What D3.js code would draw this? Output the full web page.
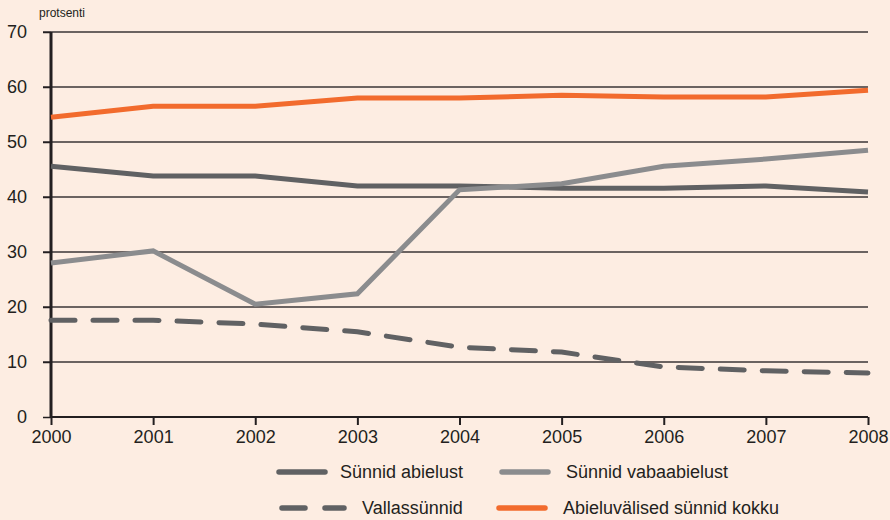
<!DOCTYPE html>
<html>
<head>
<meta charset="utf-8">
<script src="https://cdn.jsdelivr.net/npm/d3@7"></script>
<style>
  body { margin: 0; background: #fdede2; }
  svg { display: block; font-family: "Liberation Sans", Arial, sans-serif; }
</style>
</head>
<body>
<div id="chart"></div>
<script>
var width = 890,
    height = 520;

// data
var years = [2000, 2001, 2002, 2003, 2004, 2005, 2006, 2007, 2008];
var abielust = [45.6, 43.8, 43.8, 42.0, 42.0, 41.6, 41.6, 42.0, 40.9];
var vabaabielust = [28.0, 30.2, 20.5, 22.4, 41.3, 42.4, 45.6, 46.9, 48.5];
var vallas = [17.6, 17.6, 16.9, 15.5, 12.7, 11.8, 9.1, 8.4, 8.0];
var kokku = [54.5, 56.5, 56.5, 58.0, 58.0, 58.5, 58.2, 58.2, 59.4];
var yTicks = [0, 10, 20, 30, 40, 50, 60, 70];

var series = [
    { name: "Sünnid abielust", values: abielust, color: "#606163", dash: null },
    { name: "Sünnid vabaabielust", values: vabaabielust, color: "#8b8c8e", dash: null },
    { name: "Vallassünnid", values: vallas, color: "#606163", dash: "24,18" },
    { name: "Abieluvälised sünnid kokku", values: kokku, color: "#f26b2d", dash: null }
];

var x = d3.scaleLinear().domain([2000, 2008]).range([51, 868]);
var y = d3.scaleLinear().domain([0, 70]).range([417, 32]);

var svg = d3.select("#chart").append("svg")
    .attr("width", width)
    .attr("height", height);

svg.append("rect").attr("width", width).attr("height", height).attr("fill", "#fdede2");

// grid lines
svg.append("g")
    .selectAll("line")
    .data(yTicks.filter(d => d > 0))
    .join("line")
    .attr("x1", 43).attr("x2", 868)
    .attr("y1", d => y(d)).attr("y2", d => y(d))
    .attr("stroke", "#3a3536")
    .attr("stroke-width", 1.3);

// y axis
var yAxis = svg.append("g")
    .attr("transform", "translate(51,0)")
    .call(d3.axisLeft(y).tickValues(yTicks).tickSize(8).tickPadding(16));
yAxis.select(".domain").remove();
yAxis.selectAll(".tick line").attr("stroke", "#231f20").attr("stroke-width", 1.5);
yAxis.selectAll("text").attr("font-size", 18).attr("fill", "#231f20")
    .attr("font-family", "Liberation Sans, Arial, sans-serif");

// x axis
var xAxis = svg.append("g")
    .attr("transform", "translate(0,417)")
    .call(d3.axisBottom(x).tickValues(years).tickFormat(d3.format("d")).tickSize(8).tickPadding(5));
xAxis.select(".domain").attr("stroke", "#231f20").attr("stroke-width", 2).attr("d", "M51,0H868");
xAxis.selectAll(".tick line").attr("stroke", "#231f20").attr("stroke-width", 2);
xAxis.selectAll("text").attr("font-size", 18).attr("fill", "#231f20")
    .attr("font-family", "Liberation Sans, Arial, sans-serif");

// vertical axis line
svg.append("line")
    .attr("x1", 51).attr("x2", 51)
    .attr("y1", y(70)).attr("y2", y(0))
    .attr("stroke", "#231f20")
    .attr("stroke-width", 3);

svg.append("text")
    .attr("x", 39).attr("y", 17)
    .attr("font-size", 12)
    .attr("fill", "#231f20")
    .text("protsenti");

var line = d3.line()
    .x((d, i) => x(years[i]))
    .y(d => y(d));

svg.append("g")
    .selectAll("path")
    .data(series)
    .join("path")
    .attr("d", d => line(d.values))
    .attr("fill", "none")
    .attr("stroke", d => d.color)
    .attr("stroke-width", 5)
    .attr("stroke-linecap", d => d.dash ? "round" : "butt")
    .attr("stroke-dasharray", d => d.dash);

// legend
var legendPos = [
    { x: 276, y: 472, tx: 64 },
    { x: 499, y: 472, tx: 67 },
    { x: 279, y: 508, tx: 83 },
    { x: 496, y: 508, tx: 67 }
];
var lg = svg.append("g")
    .selectAll("g")
    .data(series)
    .join("g")
    .attr("transform", (d, i) => `translate(${legendPos[i].x},${legendPos[i].y})`);

lg.append("line")
    .attr("x1", 3).attr("x2", d => d.dash ? 65 : 49)
    .attr("stroke", d => d.color)
    .attr("stroke-width", 5.5)
    .attr("stroke-linecap", "round")
    .attr("stroke-dasharray", d => d.dash ? "23,20" : null);

lg.append("text")
    .attr("x", (d, i) => legendPos[i].tx)
    .attr("dy", "0.36em")
    .attr("font-size", 18)
    .attr("fill", "#231f20")
    .text(d => d.name);
</script>
</body>
</html>
